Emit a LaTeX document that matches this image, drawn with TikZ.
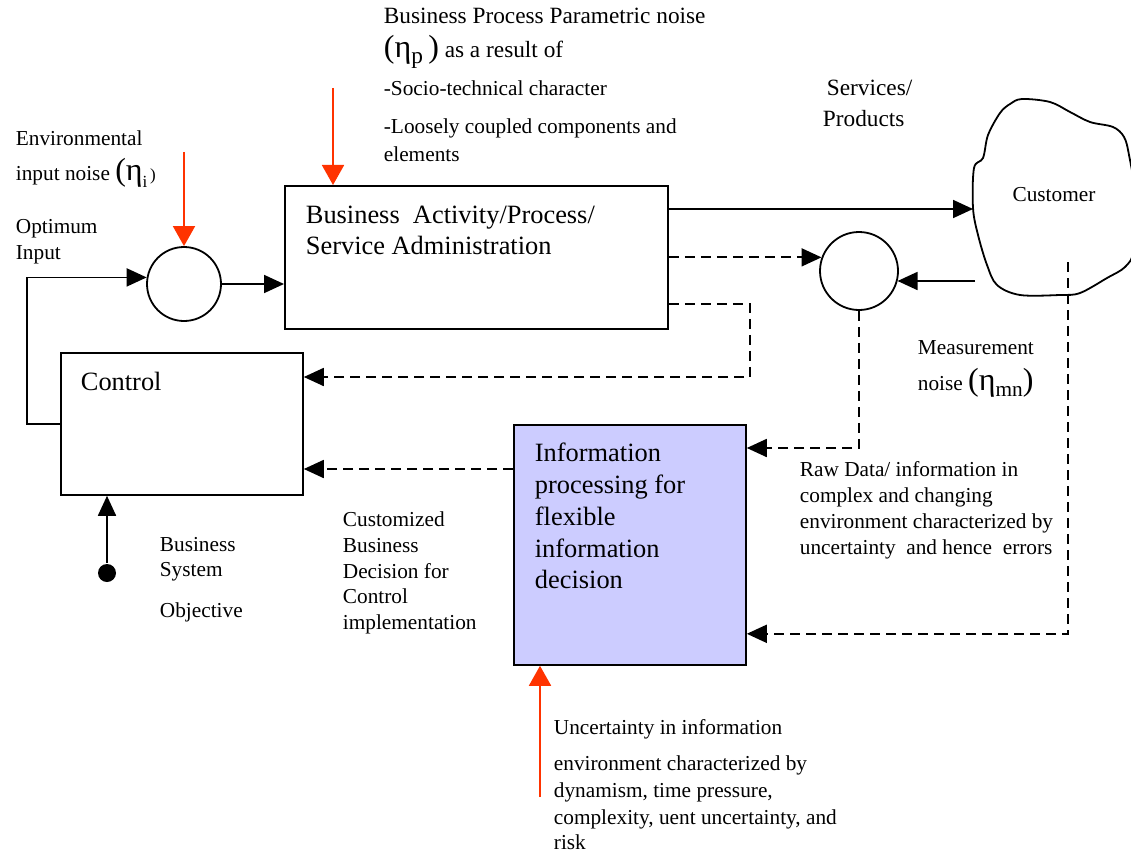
\documentclass[tikz,border=0pt]{standalone}
\usepackage{fontspec}
\setmainfont{Liberation Serif}
\usetikzlibrary{arrows.meta,calc}
\definecolor{noisered}{HTML}{FF3300}
\definecolor{infofill}{HTML}{CCCCFF}
\newcommand\smallf{\fontsize{21.3}{26}\selectfont}
\newcommand\topf{\fontsize{23.3}{28}\selectfont}
\newcommand\boxf{\fontsize{26.4}{32}\selectfont}
\newcommand\midf{\fontsize{23.3}{31}\selectfont}
\newcommand\bigf{\fontsize{32}{32}\selectfont}
\begin{document}
\begin{tikzpicture}[x=1pt,y=-1pt,line width=1.8pt,
  blk/.style={draw,line width=1.8pt,rectangle,inner sep=0pt,anchor=north west},
  sumc/.style={draw,circle,line width=1.8pt,inner sep=0pt},
  arr/.style={-{Triangle[length=20pt,width=18pt]}},
  dline/.style={dash pattern=on 10pt off 6pt},
  darr/.style={arr,dline},
  redarr/.style={draw=noisered,line width=1.8pt,-{Triangle[length=20pt,width=22pt]}},
  txt/.style={anchor=base west,inner sep=0pt,font=\smallf},
  btxt/.style={anchor=base west,inner sep=0pt,font=\boxf}]
\useasboundingbox (0,0) rectangle (1131,853);
\clip (0,0) rectangle (1131,853);

% boxes and summing circles
\node[blk,minimum width=383pt,minimum height=143pt] (bp) at (284,185) {};
\node[blk,minimum width=242pt,minimum height=142pt] (ctrl) at (60,352) {};
\node[blk,fill=infofill,minimum width=232pt,minimum height=240pt] (info) at (513,424) {};
\node[sumc,minimum size=74pt] (c1) at (184,284) {};
\node[sumc,minimum size=78pt] (c2) at (859,271) {};
\node[circle,fill,minimum size=18pt,inner sep=0pt] (obj) at (107,573) {};

% customer cloud
\draw[line width=1.8pt] plot[smooth cycle,tension=0.55] coordinates {
  (1010,104) (1022,99) (1050,102) (1070,112) (1090,122) (1113,127) (1124,137)
  (1129,155) (1136,200) (1134,250) (1125,267) (1107,278) (1080,293) (1060,295)
  (1020,295) (997,285) (987,265) (978,235) (973,208) (974,168) (983,158)
  (988,135) (1000,113)};
\node[font=\smallf,inner sep=0pt] (cust) at (1054,195) {Customer};
\coordinate (custIn) at (973,209);
\coordinate (custB) at (975,281);
\coordinate (custD) at (1068,262);

% noise sources
\coordinate (n1) at (184,152);
\coordinate (n2) at (333,88);
\coordinate (n3) at (540,797);

% connectors
\draw[arr] (ctrl.west) -- ++(-33,0) |- (c1.170);
\draw[redarr] (n1) -- (c1.north);
\draw[arr] (c1.east) -- (c1.east -| bp.west);
\draw[redarr] (n2) -- (n2 |- bp.north);
\draw[arr] ($(bp.north east)+(0,24)$) -- (custIn);
\draw[darr] (bp.east |- c2.160) -- (c2.160);
\draw[darr] ($(bp.south east)+(0,-26)$) -- ++(81,0) |- ($(ctrl.north east)+(0,25)$);
\draw[arr] (custB) -- (custB -| c2.345);
\draw[darr] (c2.south) |- ($(info.north east)+(0,24)$);
\draw[darr] (custD) |- ($(info.south east)+(0,-32)$);
\coordinate (dec) at ($(info.north west)+(0,45)$);
\draw[darr] (dec) -- (dec -| ctrl.east);
\draw[arr] (obj) -- (obj |- ctrl.south);
\draw[redarr] (n3) -- (n3 |- info.south);

% texts
\node[txt,font=\topf] (t1) at (383,24) {Business Process Parametric noise};
\node[txt,font=\topf] (t2) at (383,58) {{\bigf(η}\raisebox{-6pt}{p}{\bigf\,)} as a result of};
\node[txt] (t3) at (383,96) {-Socio-technical character};
\node[txt] (t4) at (383,134) {-Loosely coupled components and};
\node[txt] (t5) at (383,162) {elements};
\node[txt] (e1) at (15,146) {Environmental};
\node[txt] (e2) at (15,181) {input noise {\bigf(η}\raisebox{-6pt}{\fontsize{17}{17}\selectfont i}{\fontsize{17}{17}\selectfont\,)}};
\node[txt] (o1) at (15,233) {Optimum};
\node[txt] (o2) at (15,259) {Input};
\node[txt,font=\midf] (s1) at (826,96) {Services/};
\node[txt,font=\midf] (s2) at (822,127) {Products};
\node[btxt] (b1) at (305,223) {Business\ \ Activity/Process/};
\node[btxt] (b2) at (305,254) {Service Administration};
\node[btxt] (ct) at (80,390) {Control};
\node[txt] (m1) at (917,354) {Measurement};
\node[txt] (m2) at (917,390) {noise {\bigf(η}\raisebox{-6pt}{mn}{\bigf)}};
\node[btxt] (i1) at (534,461) {Information};
\node[btxt] (i2) at (534,493) {processing for};
\node[btxt] (i3) at (534,525) {flexible};
\node[btxt] (i4) at (534,557) {information};
\node[btxt] (i5) at (534,588) {decision};
\node[txt] (r1) at (799,476) {Raw Data/ information in};
\node[txt] (r2) at (799,502) {complex and changing};
\node[txt] (r3) at (799,528) {environment characterized by};
\node[txt] (r4) at (799,554) {uncertainty\ \ and hence\ \ errors};
\node[txt] (bs1) at (159,551) {Business};
\node[txt] (bs2) at (159,576) {System};
\node[txt] (bs3) at (159,617) {Objective};
\node[txt] (cu1) at (342,526) {Customized};
\node[txt] (cu2) at (342,552) {Business};
\node[txt] (cu3) at (342,578) {Decision for};
\node[txt] (cu4) at (342,603) {Control};
\node[txt] (cu5) at (342,629) {implementation};
\node[txt] (u1) at (553,734) {Uncertainty in information};
\node[txt] (u2) at (553,770) {environment characterized by};
\node[txt] (u3) at (553,797) {dynamism, time pressure,};
\node[txt] (u4) at (553,824) {complexity, uent uncertainty, and};
\node[txt] (u5) at (553,849) {risk};
\end{tikzpicture}
\end{document}
